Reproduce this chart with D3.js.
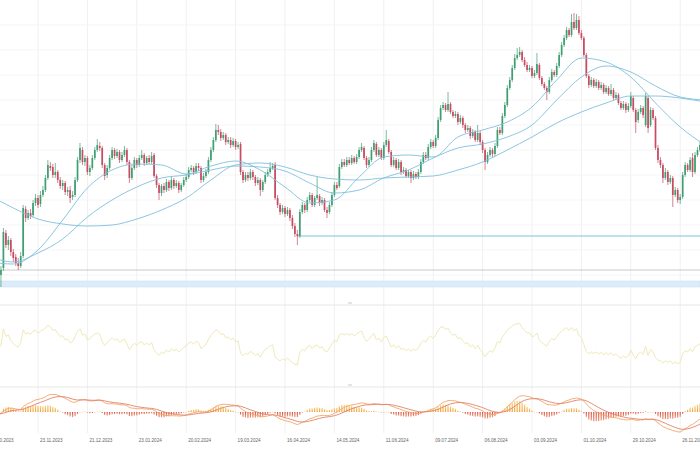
<!DOCTYPE html>
<html><head><meta charset="utf-8">
<script src="https://cdn.jsdelivr.net/npm/d3@7/dist/d3.min.js"></script>
<style>html,body{margin:0;padding:0;background:#fff;}svg{display:block;}</style>
</head><body>
<svg id="chart" width="700" height="450"></svg>
<script>
// trading-day index of the first candle (index 0 = 26.10.2023)
const firstIndex = -35;
const tickEvery = 20;
const tickLabels = ["26.10.2023","23.11.2023","21.12.2023","23.01.2024","20.02.2024","19.03.2024","16.04.2024","14.05.2024","11.06.2024","09.07.2024","06.08.2024","03.09.2024","01.10.2024","29.10.2024","26.11.2024"];

const opens = [
14.2,13.8,13.4,14.0,13.6,13.0,13.4,12.8,13.2,13.8,
13.5,13.0,12.6,13.1,13.5,14.0,13.6,13.2,12.8,13.2,
12.6,12.3,12.8,13.2,13.6,13.2,12.9,13.4,13.8,13.4,
13.0,12.6,12.2,12.7,12.3,11.9,12.4,12.8,12.4,12.0,
12.5,13.2,16.7,15.5,16.0,14.8,14.3,13.7,13.4,14.4,
19.1,18.2,18.7,18.5,19.7,20.2,19.6,20.5,21.0,22.2,
23.4,23.3,22.5,22.8,22.0,21.4,21.7,20.8,21.0,20.3,
20.5,22.0,24.0,25.0,23.8,24.2,22.8,23.2,24.2,25.0,
25.4,25.2,23.5,22.5,23.2,24.2,25.0,24.4,24.8,24.0,
24.5,25.0,23.8,22.2,23.2,24.0,23.5,24.2,24.5,23.7,
24.2,23.8,24.5,22.4,21.5,20.7,21.4,21.0,21.8,21.2,
22.0,21.4,21.7,21.0,21.5,22.0,22.3,23.0,23.2,22.8,
23.4,23.2,22.0,22.4,22.8,24.0,25.0,26.0,27.0,26.8,
26.2,26.5,25.8,26.0,25.5,25.9,25.3,25.6,22.8,22.0,
22.5,22.2,22.8,22.3,21.7,22.0,21.0,21.8,22.5,22.8,
23.2,23.5,20.2,19.5,18.8,19.2,18.6,19.0,18.2,17.4,
16.6,16.4,18.8,19.5,19.0,20.0,20.5,19.5,20.2,20.4,
19.7,20.0,19.0,18.8,19.5,20.5,21.5,21.4,23.3,23.8,
23.5,24.0,23.7,24.2,23.8,24.3,25.0,25.2,24.2,23.5,
24.0,25.0,25.6,24.5,25.0,24.2,25.5,25.9,24.8,23.5,
24.0,23.2,23.8,22.8,23.0,22.4,22.8,22.2,22.6,22.3,
22.8,23.8,24.5,24.2,25.3,25.8,25.4,26.2,28.0,29.2,
29.5,29.0,29.6,28.8,28.4,28.6,27.8,28.2,27.5,27.0,
27.2,26.4,26.8,26.0,26.7,25.8,25.0,23.8,24.5,25.0,
24.6,25.4,27.0,26.7,28.4,29.5,31.2,32.0,33.2,34.2,
34.5,34.8,34.0,33.5,33.0,33.2,32.4,32.7,33.5,32.2,
31.6,31.2,30.8,32.0,32.8,32.5,33.4,34.5,35.5,36.2,
37.0,36.5,37.8,37.2,38.0,36.7,36.2,34.5,32.4,31.5,
32.0,31.4,31.8,31.2,31.5,30.8,31.2,30.6,31.0,30.2,
30.5,29.7,29.2,29.6,29.0,29.4,30.2,29.0,28.0,28.8,
29.2,27.5,30.2,27.5,29.0,28.2,25.2,24.0,23.5,22.2,
22.8,21.8,22.2,20.5,21.0,20.0,20.3,22.5,23.5,23.0,
24.2,22.8,24.5,25.0];

const highs = [
14.5,14.1,14.3,14.3,13.9,13.7,13.7,13.5,14.1,14.1,
13.8,13.3,13.4,13.8,14.3,14.3,13.9,13.5,13.5,13.5,
12.9,13.1,13.5,13.9,13.9,13.5,13.7,14.1,14.1,13.7,
13.3,12.9,13.0,13.0,12.6,12.7,13.1,13.1,12.7,12.8,
13.4,17.2,17.0,16.4,16.2,15.1,14.6,14.2,14.8,19.5,
19.4,19.0,19.1,20.0,20.6,20.5,20.9,21.4,22.5,24.0,
23.8,23.6,23.7,23.0,22.3,22.0,21.9,21.3,21.4,20.9,
22.3,24.3,25.7,25.3,24.5,24.4,23.5,24.5,25.3,26.1,
25.8,25.4,23.7,23.5,24.5,25.3,25.2,25.1,25.0,24.8,
25.4,25.2,24.0,23.5,24.3,24.2,24.5,25.0,24.7,24.4,
24.5,24.8,24.7,22.6,21.7,21.6,21.7,22.1,22.0,22.3,
22.2,22.0,21.9,21.7,22.3,22.6,23.3,23.5,23.4,23.7,
23.7,23.4,22.7,23.1,24.3,25.3,26.3,27.6,27.5,27.1,
26.8,26.7,26.3,26.3,26.2,26.1,25.8,25.8,23.0,22.8,
22.8,23.1,23.0,22.5,22.3,22.2,22.0,22.8,23.1,23.8,
23.7,23.8,20.5,19.7,19.5,19.4,19.3,19.2,18.5,17.7,
17.0,19.1,19.8,19.7,20.3,20.8,20.7,20.4,22.3,20.6,
20.3,20.2,19.3,19.8,20.8,21.8,21.8,23.6,24.1,24.1,
24.3,24.3,24.5,24.4,24.6,25.3,25.7,25.4,24.4,24.3,
25.3,26.0,25.8,25.3,25.2,25.8,27.0,26.1,25.0,24.3,
24.2,24.1,24.0,23.3,23.2,23.0,23.0,22.9,22.8,23.1,
24.1,24.8,24.8,25.6,26.1,26.0,26.5,28.3,29.5,29.8,
29.7,30.8,29.8,29.0,28.9,28.8,28.5,28.4,27.7,27.5,
27.4,27.1,27.0,27.5,26.9,26.0,25.2,24.8,25.3,25.2,
25.7,27.3,27.3,28.7,29.8,31.5,32.3,33.5,34.6,35.2,
35.3,35.0,34.3,33.8,33.5,33.4,33.0,34.7,33.7,32.4,
31.8,31.4,32.3,33.1,33.0,33.7,34.8,35.8,36.5,37.3,
37.2,38.6,38.7,38.6,38.4,37.0,36.4,34.7,32.6,32.3,
32.2,32.1,32.0,31.8,31.7,31.5,31.4,31.6,31.2,30.8,
30.7,29.9,29.9,29.8,29.7,30.8,30.4,29.2,29.1,29.5,
29.4,30.7,30.4,29.3,29.2,28.4,25.5,24.3,23.7,23.2,
23.0,22.5,22.4,21.3,21.2,20.6,22.8,23.8,23.7,24.3,
24.7,24.8,25.3,25.8];

const lows = [
13.5,13.1,13.1,13.3,12.7,12.7,12.5,12.5,12.9,13.2,
12.7,12.3,12.3,12.8,13.2,13.3,12.9,12.5,12.5,12.3,
12.0,12.0,12.5,12.9,12.9,12.6,12.6,13.1,13.1,12.7,
12.3,11.9,11.9,12.0,11.6,11.6,12.1,12.1,11.7,11.7,
11.3,12.9,15.2,15.0,14.4,13.8,13.4,13.0,13.2,14.2,
17.8,18.0,18.1,18.3,19.4,19.2,19.3,20.3,20.8,22.0,
22.9,22.2,22.2,21.7,21.1,21.0,20.5,20.4,19.7,20.0,
20.3,21.8,23.7,23.5,23.4,22.5,22.4,23.0,24.0,24.8,
24.9,23.2,22.0,22.2,23.0,24.0,24.1,24.2,23.7,23.8,
24.3,23.5,21.7,22.0,23.0,23.2,23.3,24.0,23.4,23.5,
23.6,23.6,22.2,21.2,20.0,20.4,20.7,20.8,20.9,21.0,
21.1,21.2,20.7,20.8,21.3,21.8,22.1,22.8,22.5,22.6,
22.9,21.7,21.8,22.2,22.6,23.8,24.8,25.8,26.5,25.9,
26.0,25.5,25.6,25.2,25.3,25.0,25.1,22.5,21.7,21.8,
21.9,22.0,22.0,21.4,21.5,20.4,20.8,21.6,22.3,22.6,
23.0,20.0,19.2,18.5,18.6,18.3,18.4,17.9,17.1,16.3,
15.5,16.2,18.6,18.7,18.8,19.8,19.3,19.3,20.0,19.4,
19.5,18.8,18.2,18.6,19.3,20.3,21.0,21.2,23.1,23.3,
23.3,23.5,23.5,23.6,23.6,24.1,24.8,24.0,23.2,23.3,
23.8,24.8,24.3,24.3,24.0,24.0,25.3,24.6,23.3,23.3,
23.0,23.0,22.5,22.6,22.2,22.2,21.7,22.0,22.1,22.1,
22.6,23.6,24.0,24.0,25.1,25.2,25.2,26.0,27.8,29.0,
28.8,28.8,28.6,28.2,28.2,27.5,27.6,27.2,26.7,26.8,
26.1,26.2,25.8,25.8,25.5,24.7,23.0,23.6,24.3,24.3,
24.4,25.2,26.5,26.5,28.2,29.3,31.0,31.8,33.0,34.0,
34.3,33.8,33.3,32.8,32.8,32.2,32.2,32.5,32.0,31.4,
31.0,30.0,30.6,31.8,32.3,32.3,33.2,34.3,35.3,36.0,
36.3,36.3,37.0,37.0,36.5,36.0,34.3,32.2,31.2,31.3,
31.2,31.2,31.0,31.0,30.6,30.6,30.4,30.4,30.0,30.0,
29.5,29.0,29.0,28.7,28.8,29.2,28.8,26.7,27.7,28.6,
28.2,27.3,26.7,27.3,28.0,25.0,23.7,23.2,21.7,22.0,
21.5,21.6,19.3,20.3,19.7,19.6,20.1,22.3,22.8,22.8,
22.3,22.6,24.3,24.8];

const closes = [
13.8,13.4,14.0,13.6,13.0,13.4,12.8,13.2,13.8,13.5,
13.0,12.6,13.1,13.5,14.0,13.6,13.2,12.8,13.2,12.6,
12.3,12.8,13.2,13.6,13.2,12.9,13.4,13.8,13.4,13.0,
12.6,12.2,12.7,12.3,11.9,12.4,12.8,12.4,12.0,12.5,
13.0,16.8,15.5,16.0,14.8,14.2,13.7,13.4,14.4,19.2,
18.2,18.7,18.4,19.7,20.2,19.5,20.5,21.0,22.2,23.5,
23.2,22.5,22.8,22.0,21.4,21.7,20.8,21.0,20.2,20.5,
22.0,24.0,25.2,23.8,24.2,22.8,23.2,24.2,25.0,25.5,
25.2,23.5,22.4,23.2,24.2,25.0,24.4,24.8,24.0,24.5,
25.0,23.8,22.2,23.2,24.0,23.5,24.2,24.5,23.7,24.2,
23.8,24.4,22.4,21.5,20.7,21.4,21.0,21.8,21.2,22.0,
21.4,21.7,21.0,21.5,22.0,22.3,23.0,23.2,22.8,23.4,
23.2,22.0,22.4,22.8,24.0,25.0,26.0,27.0,26.8,26.2,
26.5,25.8,26.0,25.5,25.9,25.3,25.5,22.8,22.0,22.5,
22.2,22.8,22.3,21.7,22.0,21.0,21.8,22.5,22.8,23.2,
23.4,20.2,19.5,18.8,19.2,18.6,19.0,18.2,17.4,16.6,
16.4,18.8,19.5,19.0,20.0,20.5,19.5,20.2,20.5,19.7,
20.0,19.0,18.7,19.5,20.5,21.5,21.2,23.3,23.8,23.5,
24.0,23.7,24.2,23.8,24.3,25.0,25.3,24.2,23.5,24.0,
25.0,25.7,24.5,25.0,24.2,25.5,26.0,24.8,23.5,24.0,
23.2,23.8,22.8,23.0,22.4,22.8,22.2,22.6,22.3,22.8,
23.8,24.5,24.2,25.3,25.8,25.4,26.2,28.0,29.2,29.5,
29.0,29.6,28.8,28.4,28.6,27.8,28.2,27.5,27.0,27.2,
26.4,26.8,26.0,26.7,25.8,25.0,23.8,24.5,25.0,24.6,
25.4,27.0,26.7,28.4,29.5,31.2,32.0,33.2,34.2,34.5,
34.8,34.0,33.5,33.0,33.2,32.4,32.7,33.6,32.2,31.6,
31.2,30.8,32.0,32.8,32.5,33.4,34.5,35.5,36.2,37.0,
36.5,37.8,37.2,38.0,36.7,36.2,34.5,32.4,31.5,32.0,
31.4,31.8,31.2,31.5,30.8,31.2,30.6,31.0,30.2,30.5,
29.7,29.2,29.6,29.0,29.4,30.4,29.0,27.8,28.8,29.2,
28.5,30.4,27.2,29.0,28.2,25.2,24.0,23.5,22.2,22.8,
21.8,22.2,20.5,21.0,20.0,20.3,22.5,23.5,23.0,24.0,
22.8,24.5,25.0,25.5];

// moving-average lines, one value every maStep trading days from index 0
const maStep = 10;
const maFast = [13.8,13.6,15.0,18.0,21.2,23.0,23.6,23.5,22.6,23.4,23.9,23.0,21.3,19.7,20.0,22.3,24.3,24.5,24.3,26.3,27.0,27.8,29.3,32.0,34.2,33.8,32.3,29.7,27.3,25.5];
const maMid  = [14.4,13.8,14.7,16.1,18.3,20.0,21.3,22.2,22.5,23.0,23.4,23.3,22.9,21.7,20.7,21.0,22.2,23.0,24.2,25.2,25.6,26.3,27.5,30.0,32.3,33.4,32.8,31.4,30.3,30.0];
const maSlow = [20.5,19.2,18.1,17.6,17.4,17.5,18.1,19.0,20.2,22.0,23.5,23.7,23.3,22.5,22.1,22.0,22.2,22.3,22.4,23.0,23.8,25.0,26.3,27.7,28.8,29.7,30.4,30.4,30.2,29.8];

// horizontal levels
const supportLevel = 16.4, supportFrom = 125;
const baseLevel = 13.0;
const zoneLow = 11.3, zoneHigh = 11.9;

// ---------- drawing ----------
const svg = d3.select("#chart");
const W = 700;
const upCol = "#3f9f72", downCol = "#c94b62", maCol = "#7fc0dc";

const x = d3.scaleLinear().domain([0, (tickLabels.length - 1) * tickEvery]).range([-11.4, 680.2]);
const y = d3.scaleLinear().domain([10, 40]).range([300, 0]);
const yR = d3.scaleLinear().domain([0, 100]).range([387, 305]);

const data = closes.map((c, n) => ({ j: firstIndex + n, o: opens[n], h: highs[n], l: lows[n], c }));

const defs = svg.append("defs");
defs.append("clipPath").attr("id", "clipP")
  .append("rect").attr("x", 0).attr("y", 0).attr("width", W).attr("height", 296);
const gUp = defs.append("linearGradient").attr("id", "gUp").attr("x1", 0).attr("y1", 0).attr("x2", 0).attr("y2", 1);
gUp.append("stop").attr("offset", "0%").attr("stop-color", "#f7cf7a");
gUp.append("stop").attr("offset", "100%").attr("stop-color", "#ef9f3a");
const gDn = defs.append("linearGradient").attr("id", "gDn").attr("x1", 0).attr("y1", 0).attr("x2", 0).attr("y2", 1);
gDn.append("stop").attr("offset", "0%").attr("stop-color", "#d9503f");
gDn.append("stop").attr("offset", "100%").attr("stop-color", "#eb9a80");

// vertical grid
const ticks = tickLabels.map((t, i) => ({ t, j: i * tickEvery }));
svg.append("g").selectAll("line").data(ticks).join("line")
  .attr("x1", d => x(d.j)).attr("x2", d => x(d.j))
  .attr("y1", 0).attr("y2", 433)
  .attr("stroke", "#f0f0f0").attr("stroke-width", 1);

// horizontal grid in price panel
const hLevels = d3.range(12.5, 40, 2.5);
svg.append("g").selectAll("line").data(hLevels).join("line")
  .attr("x1", 0).attr("x2", W).attr("y1", d => y(d)).attr("y2", d => y(d))
  .attr("stroke", "#f5f5f5").attr("stroke-width", 1);

const gP = svg.append("g").attr("clip-path", "url(#clipP)");

// zone band + lines
gP.append("rect").attr("x", 0).attr("width", W)
  .attr("y", y(zoneHigh)).attr("height", y(zoneLow) - y(zoneHigh))
  .attr("fill", "#dcedf9").attr("stroke", "#c9e2f3").attr("stroke-width", 0.6);
gP.append("line").attr("x1", 0).attr("x2", W).attr("y1", y(baseLevel)).attr("y2", y(baseLevel))
  .attr("stroke", "#c4c4c4").attr("stroke-width", 0.9);
gP.append("line").attr("x1", x(supportFrom)).attr("x2", W).attr("y1", y(supportLevel)).attr("y2", y(supportLevel))
  .attr("stroke", maCol).attr("stroke-width", 1);

// candles
const vis = data.filter(d => x(d.j) > -3 && x(d.j) < W + 3);
gP.append("g").selectAll("line").data(vis).join("line")
  .attr("x1", d => x(d.j)).attr("x2", d => x(d.j))
  .attr("y1", d => y(d.h)).attr("y2", d => y(d.l))
  .attr("stroke", d => d.c >= d.o ? upCol : downCol).attr("stroke-width", 0.7);
gP.append("g").selectAll("rect").data(vis).join("rect")
  .attr("x", d => x(d.j) - 0.85).attr("width", 1.7)
  .attr("y", d => y(Math.max(d.o, d.c)))
  .attr("height", d => Math.max(0.7, Math.abs(y(d.o) - y(d.c))))
  .attr("fill", d => d.c >= d.o ? upCol : downCol);

// moving averages
const maLine = d3.line().x(d => x(d[0])).y(d => y(d[1])).curve(d3.curveMonotoneX);
[maFast, maMid, maSlow].forEach(arr => {
  gP.append("path").datum(arr.map((v, i) => [i * maStep, v]))
    .attr("d", maLine).attr("fill", "none").attr("stroke", maCol).attr("stroke-width", 0.9);
});

// ---------- RSI ----------
function rsi(c, p) {
  const out = new Array(c.length).fill(null);
  let g = 0, l = 0;
  for (let i = 1; i <= p; i++) { const d = c[i] - c[i - 1]; if (d > 0) g += d; else l -= d; }
  g /= p; l /= p;
  out[p] = 100 - 100 / (1 + g / l);
  for (let i = p + 1; i < c.length; i++) {
    const d = c[i] - c[i - 1];
    g = (g * (p - 1) + Math.max(d, 0)) / p;
    l = (l * (p - 1) + Math.max(-d, 0)) / p;
    out[i] = l === 0 ? 100 : 100 - 100 / (1 + g / l);
  }
  return out;
}
const rsiVals = rsi(closes, 14);
svg.append("line").attr("x1", 0).attr("x2", W).attr("y1", 305).attr("y2", 305).attr("stroke", "#e6e6e6");
svg.append("line").attr("x1", 0).attr("x2", W).attr("y1", 387).attr("y2", 387).attr("stroke", "#e6e6e6");
svg.append("line").attr("x1", 348).attr("x2", 352).attr("y1", 303).attr("y2", 303).attr("stroke", "#bbb").attr("stroke-width", 0.8);
svg.append("line").attr("x1", 348).attr("x2", 352).attr("y1", 385).attr("y2", 385).attr("stroke", "#bbb").attr("stroke-width", 0.8);
const rsiPts = data.map((d, n) => [d.j, rsiVals[n]]).filter(d => d[1] !== null && x(d[0]) > -5);
svg.append("path").datum(rsiPts)
  .attr("d", d3.line().x(d => x(d[0])).y(d => yR(d[1])))
  .attr("fill", "none").attr("stroke", "#efeab8").attr("stroke-width", 1);

// ---------- MACD ----------
function ema(arr, p) {
  const k = 2 / (p + 1); const out = []; let e = arr[0];
  arr.forEach((v, i) => { e = i === 0 ? v : v * k + e * (1 - k); out.push(e); });
  return out;
}
const e12 = ema(closes, 12), e26 = ema(closes, 26);
const macd = closes.map((c, i) => e12[i] - e26[i]);
const signal = ema(macd, 9);
const hist = macd.map((m, i) => m - signal[i]);
const visIdx = data.map((d, n) => n).filter(n => x(data[n].j) > -3);
const mMax = d3.max(visIdx, n => Math.max(Math.abs(macd[n]), Math.abs(signal[n])));
const hMax = d3.max(visIdx, n => Math.abs(hist[n]));
const yM = d3.scaleLinear().domain([-mMax, mMax]).range([432, 392]);
const yH = d3.scaleLinear().domain([-hMax, hMax]).range([yM(0) + 11, yM(0) - 11]);

svg.append("g").selectAll("rect").data(visIdx).join("rect")
  .attr("x", n => x(data[n].j) - 0.6).attr("width", 1.2)
  .attr("y", n => Math.min(yH(0), yH(hist[n])))
  .attr("height", n => Math.max(0.5, Math.abs(yH(hist[n]) - yH(0))))
  .attr("fill", n => hist[n] >= 0 ? "url(#gUp)" : "url(#gDn)");
svg.append("path").datum(visIdx).attr("d", d3.line().x(n => x(data[n].j)).y(n => yM(macd[n])))
  .attr("fill", "none").attr("stroke", "#f3a565").attr("stroke-width", 0.9);
svg.append("path").datum(visIdx).attr("d", d3.line().x(n => x(data[n].j)).y(n => yM(signal[n])))
  .attr("fill", "none").attr("stroke", "#e0806a").attr("stroke-width", 0.9);

// ---------- date labels ----------
svg.append("g").selectAll("text").data(ticks).join("text")
  .attr("x", d => x(d.j) + 2).attr("y", 442)
  .attr("font-family", "Liberation Sans, Arial, sans-serif").attr("font-size", 4.6)
  .attr("fill", "#666").text(d => d.t);
</script>
</body></html>
